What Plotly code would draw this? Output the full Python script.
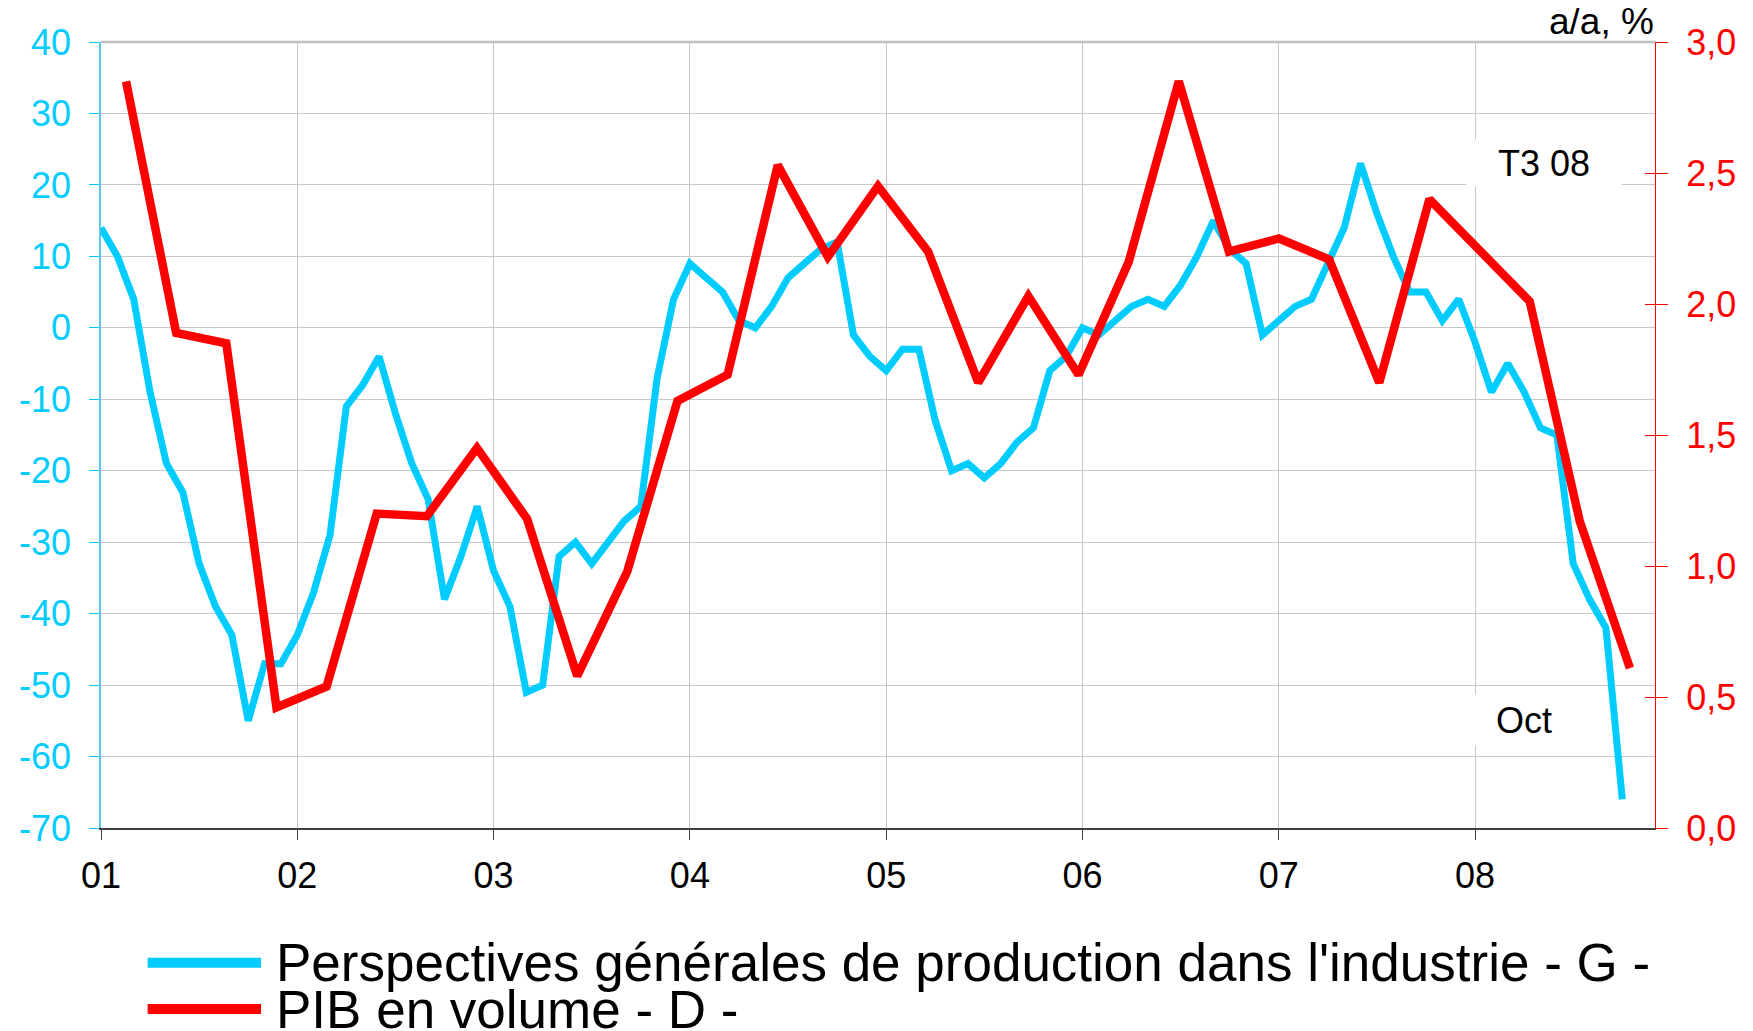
import plotly.graph_objects as go

# ---- data ----
year_ticks = [0, 12, 24, 36, 48, 60, 72, 84]
year_labels = ["01", "02", "03", "04", "05", "06", "07", "08"]

# monthly index (0 = Jan 2001 ... 93 = Oct 2008)
months = list(range(94))
perspectives = [
    14, 10, 4, -9, -19, -23, -33, -39, -43, -55, -47, -47,
    -43, -37, -29, -11, -8, -4, -12, -19, -24, -38, -32, -25,
    -34, -39, -51, -50, -32, -30, -33, -30, -27, -25, -7, 4,
    9, 7, 5, 1, 0, 3, 7, 9, 11, 12, -1, -4,
    -6, -3, -3, -13, -20, -19, -21, -19, -16, -14, -6, -4,
    0, -1, 1, 3, 4, 3, 6, 10, 15, 11, 9, -1,
    1, 3, 4, 9, 14, 23, 16, 10, 5, 5, 1, 4,
    -2, -9, -5, -9, -14, -15, -33, -38, -42, -66,
]

quarters = [
    "T1 01", "T2 01", "T3 01", "T4 01", "T1 02", "T2 02", "T3 02", "T4 02",
    "T1 03", "T2 03", "T3 03", "T4 03", "T1 04", "T2 04", "T3 04", "T4 04",
    "T1 05", "T2 05", "T3 05", "T4 05", "T1 06", "T2 06", "T3 06", "T4 06",
    "T1 07", "T2 07", "T3 07", "T4 07", "T1 08", "T2 08", "T3 08",
]
pib = [
    2.85, 1.89, 1.85, 0.46, 0.54, 1.20, 1.19, 1.45,
    1.18, 0.58, 0.98, 1.63, 1.73, 2.53, 2.18, 2.45,
    2.20, 1.70, 2.03, 1.73, 2.16, 2.85, 2.20, 2.25,
    2.17, 1.70, 2.40, 2.20, 2.01, 1.17, 0.61,
]

left_ticks = [-70, -60, -50, -40, -30, -20, -10, 0, 10, 20, 30, 40]
left_labels = ["-70", "-60", "-50", "-40", "-30", "-20", "-10", "0", "10", "20", "30", "40"]
right_ticks = [0.0, 0.5, 1.0, 1.5, 2.0, 2.5, 3.0]

series_names = [
    "Perspectives générales de production dans l'industrie - G -",
    "PIB en volume - D -",
]

CYAN = "#00CCFF"
RED = "#FF0000"
FONT = "Liberation Sans, Arial, sans-serif"

fig = go.Figure()

fig.add_trace(go.Scatter(
    x=months, y=perspectives, mode="lines", name=series_names[0],
    line=dict(color=CYAN, width=7), xaxis="x", yaxis="y",
))
fig.add_trace(go.Scatter(
    x=quarters, y=pib, mode="lines", name=series_names[1],
    line=dict(color=RED, width=8.5), xaxis="x2", yaxis="y2",
))
# invisible trace to activate yaxis3 (inside half of the crossing ticks on the right axis)
fig.add_trace(go.Scatter(x=[None], y=[None], yaxis="y3", xaxis="x",
                         showlegend=False, hoverinfo="skip"))

# legend drawn manually (paper coordinates) to match the tight two-row layout
leg_rows_y = [-0.1714, -0.2303]
leg_colors = [CYAN, RED]
shapes = [
    dict(type="line", xref="paper", yref="paper", x0=0, x1=1, y0=1, y1=1,
         line=dict(color="#C0C0C0", width=2.5), layer="above"),
]
annotations = [
    dict(text="a/a, %", xref="paper", yref="paper", x=1.0, y=1, yshift=-1,
         xanchor="right", yanchor="bottom", showarrow=False, borderpad=0,
         font=dict(size=37, color="black")),
    dict(text="T3 08", xref="x", yref="y", x=88.2, y=23,
         xanchor="center", yanchor="middle", showarrow=False,
         width=152, height=44, bgcolor="white",
         font=dict(size=36, color="black")),
    dict(text="Oct", xref="x", yref="y", x=87.0, y=-54.9,
         xanchor="center", yanchor="middle", showarrow=False,
         width=152, height=48, bgcolor="white",
         font=dict(size=36, color="black")),
]
for name, col, yy in zip(series_names, leg_colors, leg_rows_y):
    shapes.append(dict(type="line", xref="paper", yref="paper",
                       x0=0.0300, x1=0.1030, y0=yy, y1=yy,
                       line=dict(color=col, width=10)))
    annotations.append(dict(text=name, xref="paper", yref="paper",
                            x=0.112, y=yy, xanchor="left", yanchor="middle",
                            showarrow=False, borderpad=0,
                            font=dict(size=53, color="black")))

# the page body adds an 8px margin: size the figure so the plot lands at the
# reference's pixel positions within the 1753x1031 window
fig.update_layout(
    width=1745, height=1023,
    margin=dict(l=93, r=98, t=34, b=203, autoexpand=False),
    paper_bgcolor="white", plot_bgcolor="white",
    separators=", ",
    font=dict(family=FONT, size=36, color="black"),
    showlegend=False,
    xaxis=dict(
        range=[0, 95], tickmode="array", tickvals=year_ticks, ticktext=year_labels,
        showgrid=True, gridcolor="#C8C8C8", gridwidth=1,
        showline=True, linecolor="#404040", linewidth=2,
        ticks="outside", ticklen=10, tickcolor="#404040", tickwidth=1,
        tickfont=dict(size=36, color="black"), ticklabelstandoff=5,
        zeroline=False,
    ),
    xaxis2=dict(
        type="category", range=[-0.5, 30.5], overlaying="x", visible=False,
        categoryorder="array", categoryarray=quarters,
    ),
    yaxis=dict(
        range=[-70, 40], tickmode="array", tickvals=left_ticks, ticktext=left_labels,
        showgrid=True, gridcolor="#C8C8C8", gridwidth=1,
        showline=True, linecolor="#55C8E8", linewidth=1.5,
        ticks="outside", ticklen=10, tickcolor=CYAN, tickwidth=1,
        tickfont=dict(size=36, color=CYAN), ticklabelstandoff=11,
        zeroline=False,
    ),
    yaxis2=dict(
        range=[0, 3], tickmode="array", tickvals=right_ticks, tickformat=".1f",
        overlaying="y", side="right", showgrid=False,
        showline=True, linecolor=RED, linewidth=1,
        ticks="outside", ticklen=12, tickcolor=RED, tickwidth=1,
        tickfont=dict(size=36, color=RED), ticklabelstandoff=11,
        zeroline=False,
    ),
    yaxis3=dict(
        range=[0, 3], tickmode="array", tickvals=right_ticks,
        overlaying="y", side="right", showgrid=False, showline=False,
        ticks="inside", ticklen=10, tickcolor=RED, tickwidth=1,
        showticklabels=False, zeroline=False,
    ),
    shapes=shapes,
    annotations=annotations,
)

fig.write_html("out.html")
